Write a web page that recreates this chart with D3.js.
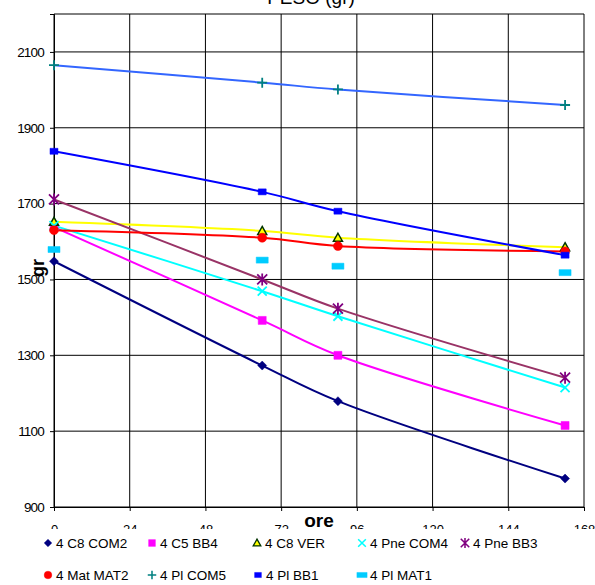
<!DOCTYPE html>
<html>
<head>
<meta charset="utf-8">
<script src="https://cdn.jsdelivr.net/npm/d3@7"></script>
<style>
  body { margin: 0; background: #fff; }
  svg { font-family: "Liberation Sans", Arial, sans-serif; }
</style>
</head>
<body>
<div id="chart"></div>
<script>
// chart data
var hours = [0, 66, 90, 162];
var xTicks = [0, 24, 48, 72, 96, 120, 144, 168];
var yTicks = [900, 1100, 1300, 1500, 1700, 1900, 2100];

var seriesNames = ["4 C8 COM2", "4 C5 BB4", "4 C8 VER", "4 Pne COM4", "4 Pne BB3",
                   "4 Mat MAT2", "4 Pl COM5", "4 Pl BB1", "4 Pl MAT1"];
var c8com2 = [1548, 1273, 1179, 975];
var c5bb4 = [1638, 1392, 1300, 1115];
var c8ver = [1652, 1628, 1610, 1585];
var pneCom4 = [1642, 1469, 1403, 1215];
var pneBb3 = [1711, 1500, 1423, 1241];
var matMat2 = [1630, 1610, 1588, 1574];
var plCom5 = [2065, 2019, 2001, 1960];
var plBb1 = [1838, 1731, 1680, 1564];
var plMat1 = [1579, 1551, 1535, 1518];

var svgWidth = 595;
var svgHeight = 585;

var svg = d3.select("#chart")
  .append("svg")
  .attr("width", svgWidth)
  .attr("height", svgHeight);

var x = d3.scaleLinear().domain([0, 168]).range([54, 584]);
var y = d3.scaleLinear().domain([900, 2200]).range([507, 14]);

// series styles: line colour (null = no line), marker shape / colours
var styles = [
  { values: c8com2, line: "#000080", shape: "diamond", fill: "#000080", stroke: "#000080" },
  { values: c5bb4, line: "#ff00ff", shape: "square", fill: "#ff00ff", stroke: "#ff00ff" },
  { values: c8ver, line: "#ffff00", shape: "triangle", fill: "#ffff00", stroke: "#003300" },
  { values: pneCom4, line: "#00ffff", shape: "x", fill: "none", stroke: "#00ffff" },
  { values: pneBb3, line: "#993366", shape: "star", fill: "none", stroke: "#800080" },
  { values: matMat2, line: "#ff0000", shape: "circle", fill: "#ff0000", stroke: "#ff0000" },
  { values: plCom5, line: "#3366ff", shape: "plus", fill: "none", stroke: "#008080" },
  { values: plBb1, line: "#0000ff", shape: "rect", fill: "#0000ff", stroke: "#0000ff" },
  { values: plMat1, line: null, shape: "dash", fill: "#00ccff", stroke: "#00ccff" }
];

function markerPath(shape) {
  switch (shape) {
    case "diamond": return "M0,-4.5L4.5,0L0,4.5L-4.5,0Z";
    case "square": return "M-4,-4H4V4H-4Z";
    case "triangle": return "M0,-4.5L4.5,3.5H-4.5Z";
    case "x": return "M-4.5,-4.5L4.5,4.5M4.5,-4.5L-4.5,4.5";
    case "star": return "M-5,-5L5,5M5,-5L-5,5M0,-6V6";
    case "circle": return "M4.5,0A4.5,4.5 0 1,1 -4.5,0A4.5,4.5 0 1,1 4.5,0Z";
    case "plus": return "M-5,0H5M0,-5V5";
    case "rect": return "M-4,-3H4V3H-4Z";
    case "dash": return "M-6,-3H6V3H-6Z";
  }
}

// plot frame and gridlines
var grid = svg.append("g");
grid.selectAll("line.h")
  .data(yTicks.concat([2200]))
  .enter().append("line")
  .attr("x1", x(0)).attr("x2", x(168))
  .attr("y1", d => y(d)).attr("y2", d => y(d))
  .attr("stroke", "#000").attr("stroke-width", 1);
grid.selectAll("line.v")
  .data(xTicks)
  .enter().append("line")
  .attr("x1", d => x(d)).attr("x2", d => x(d))
  .attr("y1", y(2200)).attr("y2", y(900))
  .attr("stroke", "#000").attr("stroke-width", 1);

// axes
var bottomAxis = d3.axisBottom(x).tickValues(xTicks).tickSize(4).tickFormat(d3.format("d"));
var leftAxis = d3.axisLeft(y).tickValues(yTicks).tickSize(4).tickFormat(d3.format("d"));

var xAxisG = svg.append("g")
  .attr("transform", `translate(0, ${y(900)})`)
  .call(bottomAxis);
xAxisG.select(".domain").attr("stroke", "#000");
xAxisG.selectAll("text")
  .attr("font-size", 13)
  .attr("font-family", "Liberation Sans, Arial, sans-serif")
  .attr("fill", "#000")
  .attr("dy", "1.55em");

var yAxisG = svg.append("g")
  .attr("transform", `translate(${x(0)}, 0)`)
  .call(leftAxis);
yAxisG.select(".domain").attr("stroke", "#000");
yAxisG.selectAll("text")
  .attr("font-size", 13.5)
  .attr("letter-spacing", "-0.8")
  .attr("font-family", "Liberation Sans, Arial, sans-serif")
  .attr("fill", "#000")
  .attr("x", -10);

// trend lines
var lineGen = d3.line()
  .x((d, i) => x(hours[i]))
  .y(d => y(d))
  .curve(d3.curveCatmullRom.alpha(0.5));

styles.forEach(function(s) {
  if (!s.line) return;
  svg.append("path")
    .attr("d", lineGen(s.values))
    .attr("fill", "none")
    .attr("stroke", s.line)
    .attr("stroke-width", 2);
});

// markers
styles.forEach(function(s) {
  svg.append("g").selectAll("path")
    .data(s.values)
    .enter().append("path")
    .attr("transform", (d, i) => `translate(${x(hours[i])}, ${y(d)})`)
    .attr("d", markerPath(s.shape))
    .attr("fill", s.fill)
    .attr("stroke", s.stroke)
    .attr("stroke-width", s.fill === "none" ? 1.8 : (s.shape === "triangle" ? 1.5 : 0.5));
});

// titles
svg.append("text")
  .attr("x", 311).attr("y", 4)
  .attr("text-anchor", "middle")
  .attr("font-size", 19)
  .text("PESO  (gr)");

svg.append("text")
  .attr("transform", "translate(44, 268) rotate(-90)")
  .attr("text-anchor", "middle")
  .attr("font-size", 18)
  .attr("font-weight", "bold")
  .text("gr");

svg.append("text")
  .attr("x", 319).attr("y", 527)
  .attr("text-anchor", "middle")
  .attr("font-size", 19)
  .attr("font-weight", "bold")
  .text("ore");

// legend (covers the lower half of the x tick labels)
svg.append("rect")
  .attr("x", 0).attr("y", 529)
  .attr("width", svgWidth).attr("height", svgHeight - 529)
  .attr("fill", "#fff");

var legendPos = [
  [48, 543], [152, 543], [257, 543], [362, 543], [465, 543],
  [48, 575], [152, 575], [258, 575], [362, 575]
];

var legend = svg.append("g");
styles.forEach(function(s, i) {
  var p = legendPos[i];
  legend.append("path")
    .attr("transform", `translate(${p[0]}, ${p[1]}) scale(0.85)`)
    .attr("d", markerPath(s.shape))
    .attr("fill", s.fill)
    .attr("stroke", s.stroke)
    .attr("stroke-width", s.fill === "none" ? 1.8 : (s.shape === "triangle" ? 1.5 : 0.5));
  legend.append("text")
    .attr("x", p[0] + 8).attr("y", p[1] + 4.5)
    .attr("font-size", 13.5)
    .text(seriesNames[i]);
});
</script>
</body>
</html>
